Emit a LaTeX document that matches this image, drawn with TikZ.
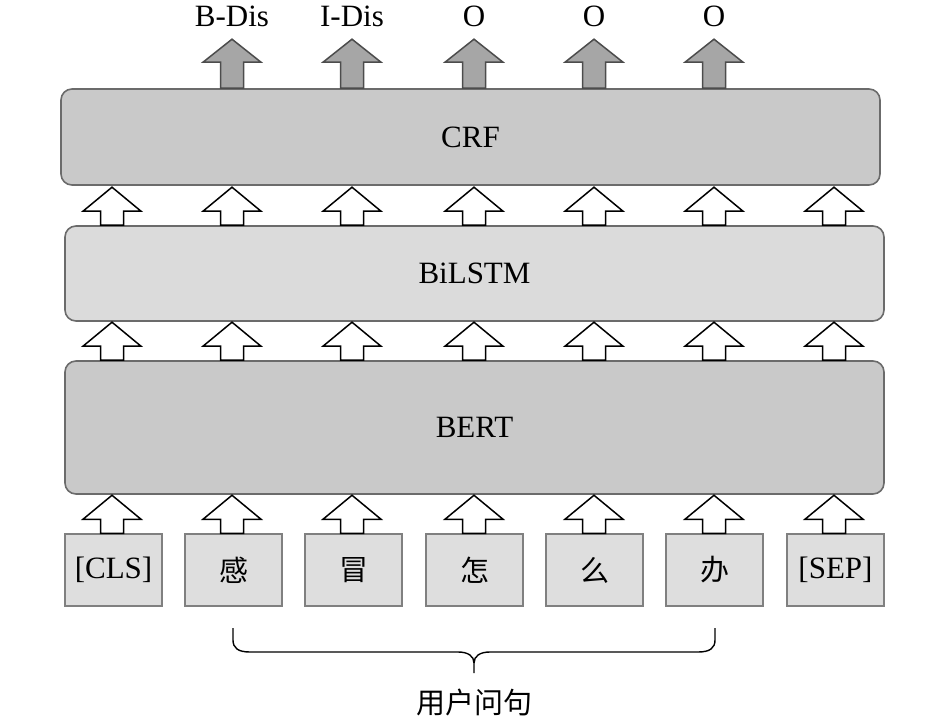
\documentclass[tikz,border=0pt]{standalone}
\usepackage{fontspec}
\setmainfont{Liberation Serif}
\newfontfamily\cjk{Noto Sans CJK SC}
\usetikzlibrary{calc}
\begin{document}
\begin{tikzpicture}[x=1pt,y=-1pt,
  layer/.style={draw=black!58, line width=1.6pt, rounded corners=11pt, inner sep=0pt, font=\fontsize{31}{36}\selectfont},
  tokbox/.style={draw=black!50, line width=1.5pt, fill=black!13, minimum width=97pt, minimum height=72pt, inner sep=0pt, font=\fontsize{31}{36}\selectfont},
  lbl/.style={font=\fontsize{31}{36}\selectfont, inner sep=0pt},
  hollow/.style={draw=black, fill=white, line width=1.5pt},
  outarr/.style={draw=black!70, fill=black!35, line width=1.5pt},
  pics/uparrow/.style 2 args={code={
    \path[pic actions] (-11.5,0) -- (-11.5,-#1) -- (-29,-#1) -- (0,-#1-#2) -- (29,-#1) -- (11.5,-#1) -- (11.5,0) -- cycle;}}
]
\useasboundingbox (0,0) rectangle (945,723);

% layers
\node[layer, fill=black!21, minimum width=819pt, minimum height=96pt] (crf) at (470.5,137) {CRF};
\node[layer, fill=black!14, minimum width=819pt, minimum height=95pt] (bilstm) at (474.5,273.5) {BiLSTM};
\node[layer, fill=black!21, minimum width=819pt, minimum height=133pt] (bert) at (474.5,427.5) {BERT};

% tokens
\node[tokbox] (t1) at (113.5,570) {[CLS]};
\node[tokbox] (t2) at (233.5,570) {\cjk\fontsize{29}{34}\selectfont 感};
\node[tokbox] (t3) at (353.5,570) {\cjk\fontsize{29}{34}\selectfont 冒};
\node[tokbox] (t4) at (474.5,570) {\cjk\fontsize{29}{34}\selectfont 怎};
\node[tokbox] (t5) at (594.5,570) {\cjk\fontsize{29}{34}\selectfont 么};
\node[tokbox] (t6) at (714.5,570) {\cjk\fontsize{29}{34}\selectfont 办};
\node[tokbox] (t7) at (835.5,570) {[SEP]};

% hollow arrows between layers
\foreach \i/\cx in {1/112,2/232,3/352,4/474,5/594,6/714,7/834}{
  \coordinate (c\i) at (\cx,0);
  \pic[hollow] at (c\i |- t\i.north) {uparrow={14}{24}};
  \pic[hollow] at (c\i |- bert.north) {uparrow={14}{24}};
  \pic[hollow] at (c\i |- bilstm.north) {uparrow={14}{24}};
}

% output arrows and labels
\foreach \i/\txt in {2/B-Dis,3/I-Dis,4/O,5/O,6/O}{
  \pic[outarr] at (c\i |- crf.north) {uparrow={26}{23}};
  \node[lbl] (o\i) at ($(c\i)+(0,16)$) {\txt};
}

% brace
\coordinate (bl) at (233,628);
\coordinate (br) at (715,628);
\coordinate (bm) at (474,673);
\draw[line width=1.4pt] (bl) -- (233,640) .. controls (233,648) and (238,652) .. (250,652) -- (458,652) .. controls (468,652) and (474,656) .. (474,663) -- (bm);
\draw[line width=1.4pt] (br) -- (715,640) .. controls (715,648) and (710,652) .. (698,652) -- (490,652) .. controls (480,652) and (474,656) .. (474,663);
\node[lbl] (q) at (474,702) {\cjk\fontsize{29}{34}\selectfont 用户问句};
\end{tikzpicture}
\end{document}
